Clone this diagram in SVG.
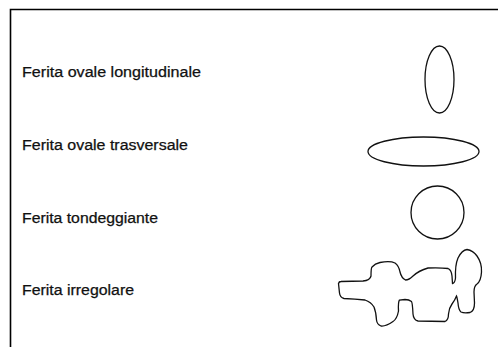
<svg xmlns="http://www.w3.org/2000/svg" width="498" height="347" viewBox="0 0 498 347">
<style>
.lbl{font-family:"Liberation Sans",Arial,sans-serif;font-size:14px;fill:#111;stroke:#111;stroke-width:0.25}
.shp{fill:none;stroke:#111;stroke-width:1.3}
.frame{fill:none;stroke:#000;stroke-width:1.6}
</style>
<rect width="498" height="347" fill="#fff"/>
<g id="frame">
<path class="frame" d="M10.5,347 V9.5 H498"/>
</g>
<g id="longitudinale">
<text class="lbl" x="22" y="77" textLength="179" lengthAdjust="spacingAndGlyphs">Ferita ovale longitudinale</text>
<ellipse class="shp" cx="439.5" cy="79.5" rx="14.5" ry="33.5"/>
</g>
<g id="trasversale">
<text class="lbl" x="22" y="150" textLength="166" lengthAdjust="spacingAndGlyphs">Ferita ovale trasversale</text>
<ellipse class="shp" cx="423.5" cy="151.5" rx="55.5" ry="14.5"/>
</g>
<g id="tondeggiante">
<text class="lbl" x="22" y="223" textLength="136" lengthAdjust="spacingAndGlyphs">Ferita tondeggiante</text>
<circle class="shp" cx="437.5" cy="212.5" r="26.5"/>
</g>
<g id="irregolare">
<text class="lbl" x="22" y="295" textLength="112" lengthAdjust="spacingAndGlyphs">Ferita irregolare</text>
<path class="shp" d="M338.5,283.5 Q339,281.5 341,281.5 L363,281 Q370,280.5 371,276 Q371,268 372,267 Q375,263.5 380,262.5 Q390,260.5 395,263 Q399,266 400,272 Q401.5,278 405.5,280 Q409,280 413,276 Q419,270.5 428,268 Q440,267.5 448,268.5 Q451.5,270 452,276 L452.5,283.5 Q455,283 455.5,278 Q455,265 458,258 Q462,250 467,249.5 Q473,250.5 477,256 Q482,263 481.5,272 Q481,281 477,284 Q474,286 474,292 L474.5,303 Q474.5,311 470,312.5 Q464,313.5 461,312 Q458.5,310 458,303 Q457,297 456.5,296 Q455,300 452,304 Q449,308 448.5,314 Q448.5,320 445,321.5 L418,321 Q413.5,320 413,314 Q412.5,303 411.5,301.5 Q409,299.5 405,299.5 L399.5,300 Q398,302 398.5,311 Q397,319 393,321.5 Q386,326.5 381,326 Q377,324.5 376.5,320 Q376,312 374,307 Q371,302 365,300 Q355,299 344,298.5 Q340,297.5 339.5,293 Z"/>
</g>
</svg>
